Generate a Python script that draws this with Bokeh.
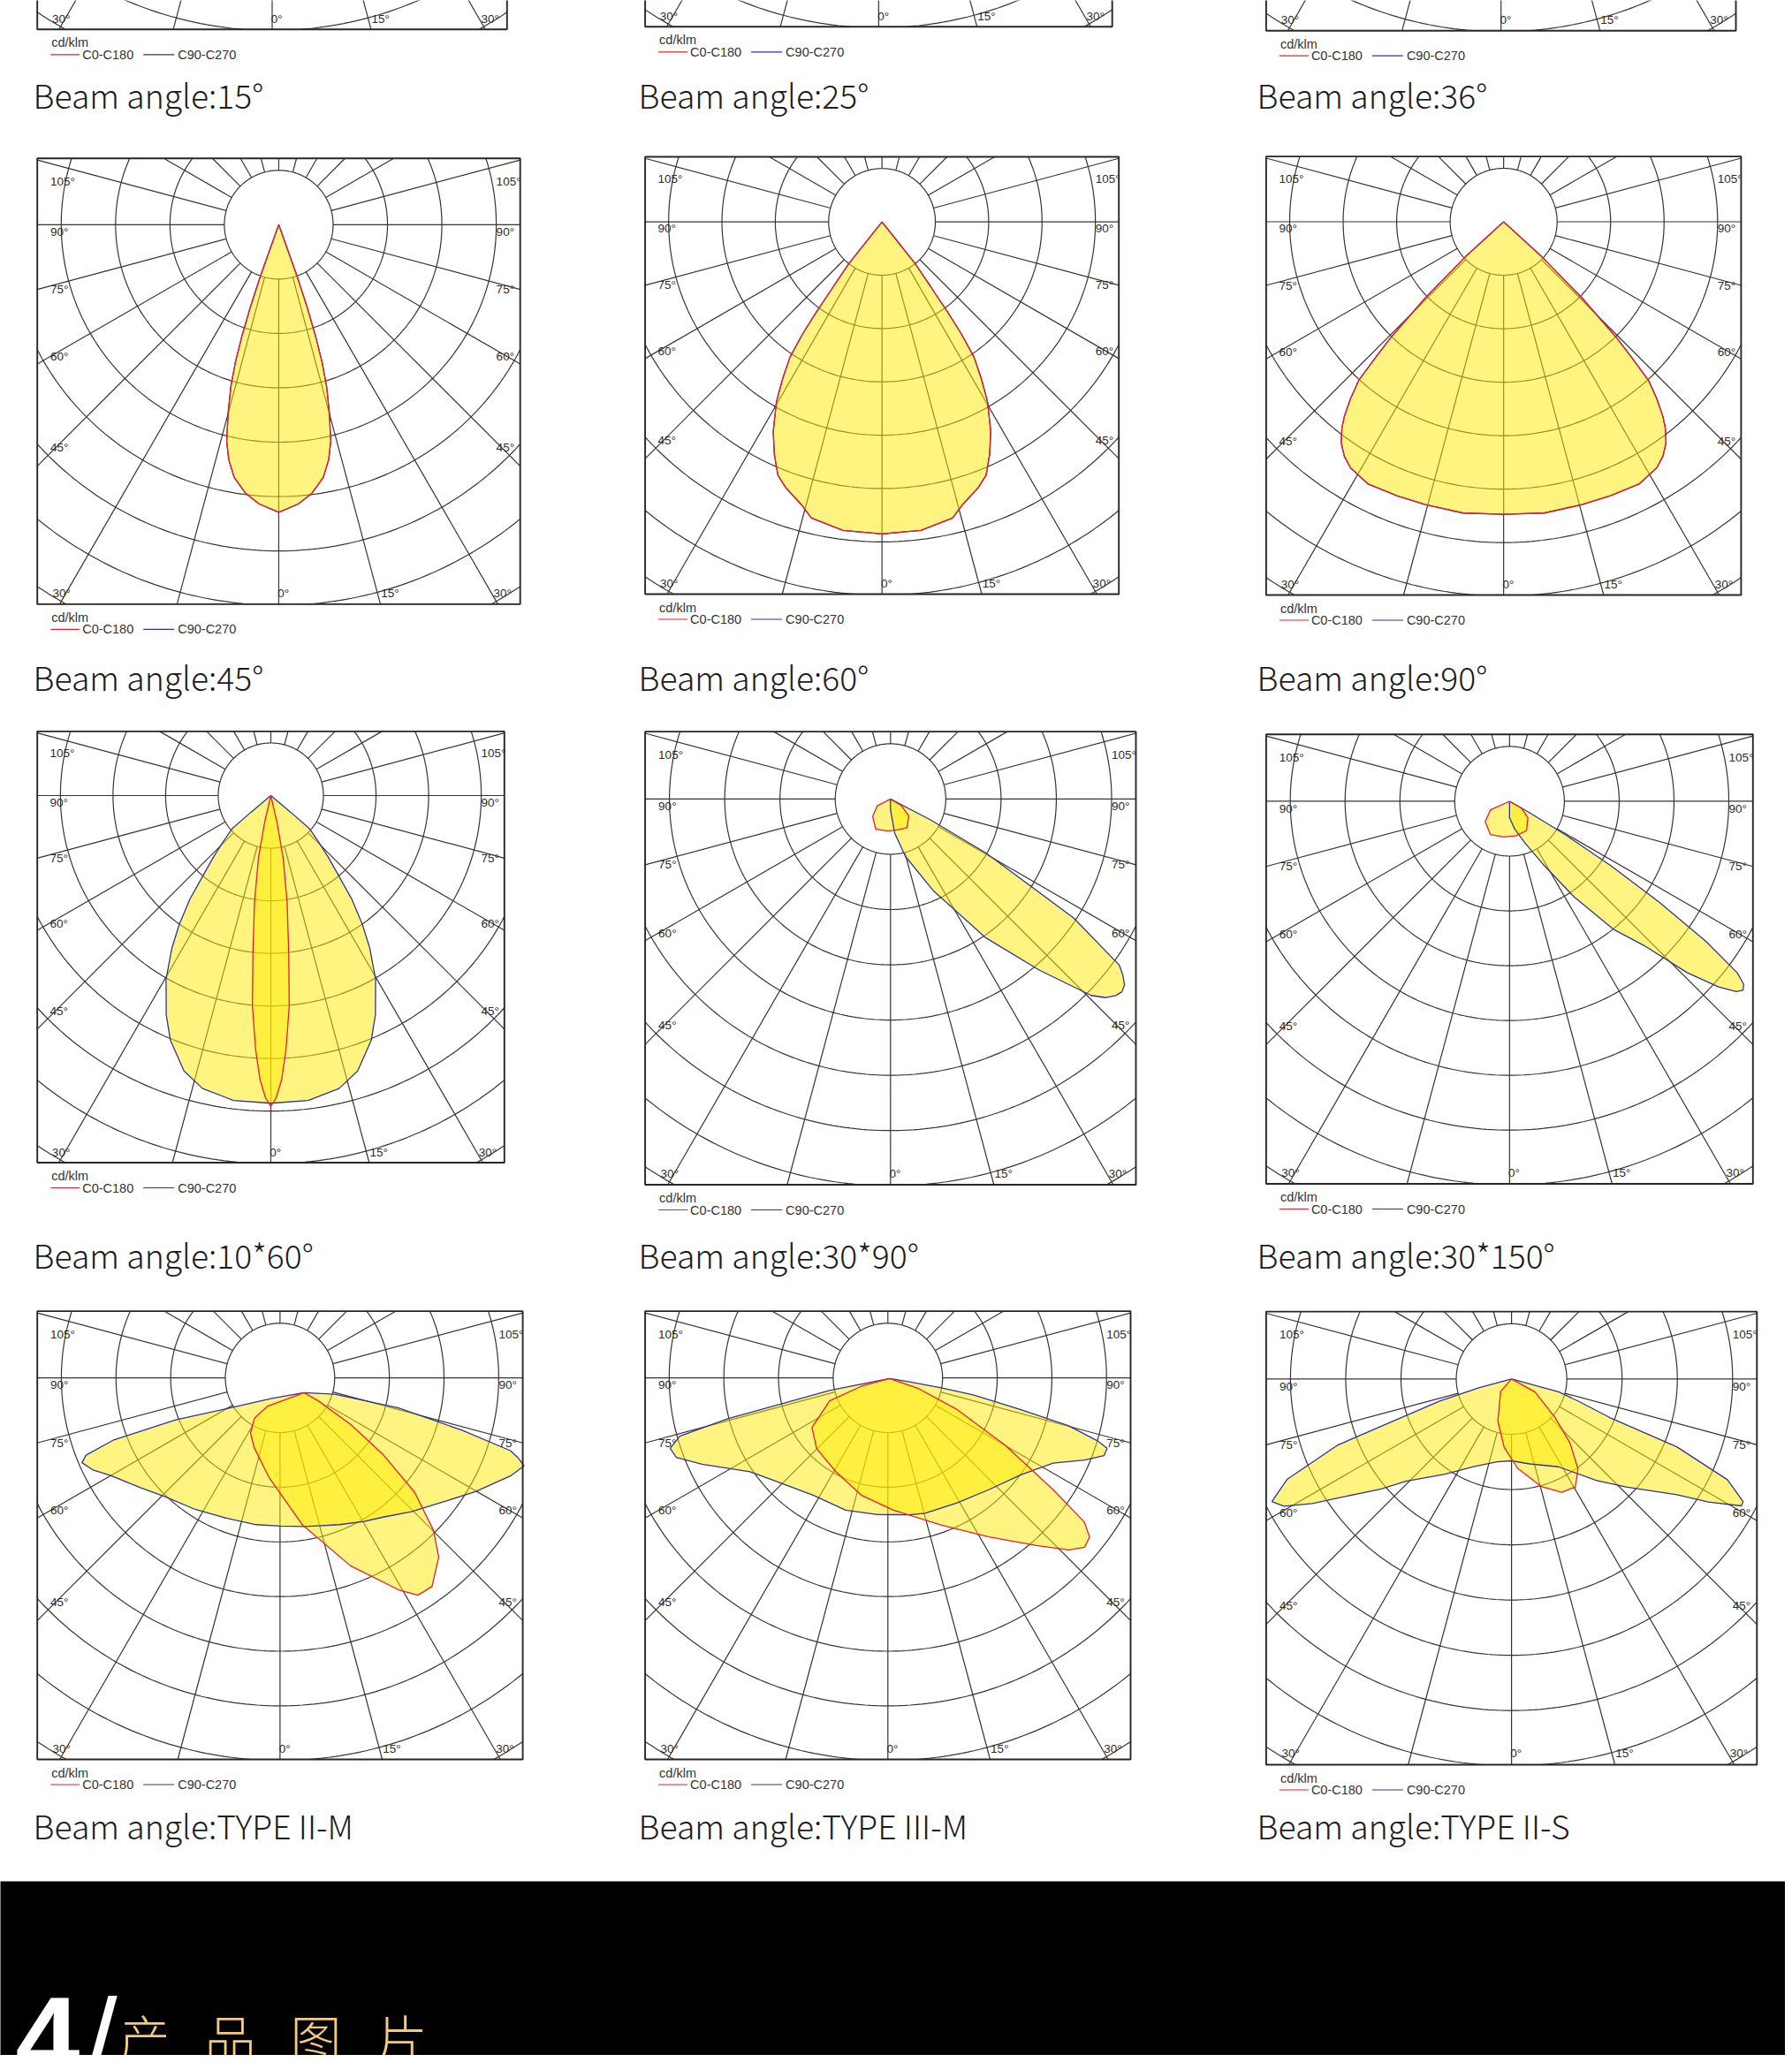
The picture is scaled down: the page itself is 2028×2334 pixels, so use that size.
import numpy as np
from bokeh.plotting import figure
from bokeh.models import Range1d
from bokeh.core.properties import value
from bokeh.embed import file_html
from bokeh.resources import INLINE

# ------------------------------------------------------------------ data
titles = ["Beam angle:15°", "Beam angle:25°", "Beam angle:36°",
          "Beam angle:45°", "Beam angle:60°", "Beam angle:90°",
          "Beam angle:10*60°", "Beam angle:30*90°", "Beam angle:30*150°",
          "Beam angle:TYPE II-M", "Beam angle:TYPE III-M", "Beam angle:TYPE II-S"]
side_labels = ["105°", "90°", "75°", "60°", "45°"]
bottom_labels = ["30°", "0°", "15°", "30°"]
legend_unit = "cd/klm"
legend_names = ["C0-C180", "C90-C270"]
ring_levels = [1, 2, 3, 4, 5, 6, 7, 8]
ray_angles = list(range(0, 360, 15))
heading_number = "4"
heading_slash = "/"
heading_chars = ["产", "品", "图", "片"]

# intensity (in grid-ring units) against angle from nadir (deg)
# symmetric beams: half profiles
b45_ang = [0, 4, 7, 10, 12, 13.5, 15, 16.5, 17.5, 18.3, 19, 19.6, 20.2]
b45_int = [5.29, 5.15, 4.98, 4.72, 4.42, 4.10, 3.60, 3.10, 2.65, 2.15, 1.60, 1.00, 0]
b60_ang = [0, 7.2, 13.4, 15.8, 19.9, 22.3, 24.8, 27.4, 30.4, 32.4, 34.2, 35.3, 36.0, 36.9, 38.4, 39.5]
b60_int = [5.85, 5.83, 5.71, 5.52, 5.30, 5.14, 4.81, 4.43, 3.91, 3.47, 3.07, 2.58, 2.11, 1.52, 0.99, 0]
b90_ang = [0, 7.9, 15.5, 21.3, 27.3, 31.9, 34.2, 36.3, 38.1, 39.3, 40.9, 42.4, 43.3, 44.2, 45.8, 47.5, 48.5]
b90_int = [5.47, 5.50, 5.49, 5.50, 5.52, 5.42, 5.30, 5.13, 4.90, 4.70, 4.37, 4.02, 3.50, 3.05, 2.05, 0.98, 0]
b1060_c90_ang = [0, 7, 13.1, 17.5, 22.3, 25.5, 29.7, 33, 35.4, 38, 40.2, 43, 46, 49.4, 50, 50.5]
b1060_c90_int = [5.85, 5.84, 5.72, 5.49, 5.03, 4.62, 4.02, 3.45, 3.00, 2.50, 2.00, 1.60, 1.25, 0.97, 0.50, 0]
b1060_c0_ang = [0, 1, 2.2, 3.4, 5, 6.4, 8.7, 11.2, 13, 14.5]
b1060_c0_int = [5.91, 5.75, 5.40, 4.85, 4.02, 3.06, 2.05, 1.21, 0.53, 0]
# asymmetric beams: full profiles (negative angles = opposite half-plane)
b3090_c0_ang = [-75, -63, -46, -26, -5, 14, 30, 47, 59, 70]
b3090_c0_int = [0, 0.27, 0.45, 0.61, 0.58, 0.57, 0.60, 0.45, 0.23, 0]
b3090_c90_ang = [-5, 0, 7, 14.5, 25, 34.5, 41, 45.6, 47.3, 48.9, 50.2, 51.5, 52.8, 54, 57, 60.5, 62.5, 64]
b3090_c90_int = [0, 0.20, 0.62, 1.07, 1.83, 3.05, 4.10, 5.08, 5.30, 5.41, 5.45, 5.41, 5.28, 5.12, 3.95,
                 1.99, 0.80, 0]
b30150_c0_ang = [-80, -66, -50, -30, -10, 10, 30, 48, 60, 72]
b30150_c0_int = [0, 0.38, 0.58, 0.70, 0.66, 0.64, 0.62, 0.45, 0.25, 0]
b30150_c90_ang = [-3, 0, 10, 20, 28, 34, 39, 43, 46, 48.4, 50, 51, 52, 53, 54.5, 56, 57.5, 59, 60.5, 61.5]
b30150_c90_int = [0, 0.30, 0.50, 0.80, 1.30, 2.10, 3.00, 3.60, 4.50, 5.10, 5.40, 5.48, 5.42, 5.20, 4.40,
                  3.30, 2.20, 1.20, 0.40, 0]
b2m_c0_ang = [-75, -69.5, -62.7, -52.9, -42, -22.4, -0.7, 15, 25.6, 29.3, 33.4, 39.3, 43.2, 48, 52, 55.7, 60, 63]
b2m_c0_int = [0, 0.72, 1.02, 1.23, 1.36, 1.68, 2.42, 3.28, 4.00, 4.25, 4.25, 3.89, 3.46, 2.72, 1.82, 1.03, 0.30, 0]
b2m_c90_ang = [-90, -80, -78.5, -78, -76, -74, -72.5, -70, -66.8, -60, -53, -43, -33, -20, -10, 0, 6, 15, 25,
               32, 42, 52.7, 60, 68, 71.6, 73, 74.3, 76.6, 80.8, 87, 90]
b2m_c90_int = [0, 0.60, 1.20, 2.40, 3.60, 4.15, 4.26, 4.12, 3.85, 3.47, 3.17, 2.92, 2.72, 2.57, 2.48, 2.45, 2.45,
               2.50, 2.60, 2.69, 2.93, 3.27, 3.62, 4.07, 4.24, 4.10, 3.92, 2.97, 1.75, 0.56, 0]
b3m_c0_ang = [-80, -74.6, -69.5, -57.6, -46.1, -29.8, -13.4, 1.7, 19.3, 32.1, 41.3, 46.3, 49.1, 51.6, 53.6,
              55.8, 60, 65.3, 70.6, 76]
b3m_c0_int = [0, 0.53, 1.17, 1.68, 1.85, 1.97, 2.20, 2.41, 2.84, 3.42, 4.07, 4.54, 4.72, 4.67, 4.43, 3.61,
              2.44, 1.36, 0.57, 0]
b3m_c90_ang = [-82, -78.7, -76.8, -76, -74.6, -72.3, -69.7, -65.4, -56.2, -45.7, -33, -18.4, -5, 8.2, 14.8,
               28.5, 41.9, 53.7, 62.6, 67.3, 70.2, 72.2, 73.3, 75.2, 76.6, 78.9, 79.7, 80.5, 83]
b3m_c90_int = [0, 1.12, 2.02, 3.05, 3.98, 4.21, 4.16, 3.77, 3.07, 2.75, 2.55, 2.54, 2.50, 2.52, 2.55, 2.59,
               2.73, 2.98, 3.37, 3.87, 4.17, 4.18, 3.97, 3.39, 2.47, 1.56, 0.96, 0.37, 0]
b2s_c0_ang = [-50, -41, -18, -6.2, 3.9, 15.5, 23.9, 30.6, 36.5, 42.4, 48.5, 61.3, 70]
b2s_c0_int = [0, 0.30, 0.80, 1.24, 1.62, 2.02, 2.24, 2.27, 2.02, 1.57, 1.05, 0.48, 0]
b2s_c90_ang = [-77, -75, -72.9, -69.2, -65.9, -62.9, -60.8, -58, -55.6, -50, -45.9, -35, -23.4, -10, 0, 12,
               28.1, 40, 46.7, 55, 58, 61.1, 62.1, 65, 67.7, 68.6, 71.5, 74.8, 78]
b2s_c90_int = [0, 0.60, 1.36, 3.36, 4.45, 4.87, 4.72, 4.25, 3.81, 3.10, 2.66, 2.10, 1.73, 1.52, 1.48, 1.57,
               1.80, 2.40, 2.85, 3.65, 4.20, 4.75, 4.74, 4.31, 3.23, 1.90, 1.30, 0.88, 0]


def sym(ang, inten):
    return [-a for a in ang[::-1]] + list(ang[1:]), list(inten[::-1]) + list(inten[1:])


# panel index -> curves (C0-C180, C90-C270), whether both coincide, origin offset in ring units
panel_curves = {
    3: dict(c0=sym(b45_ang, b45_int), c90=sym(b45_ang, b45_int), same=True, off=(0, 0)),
    4: dict(c0=sym(b60_ang, b60_int), c90=sym(b60_ang, b60_int), same=True, off=(0, 0)),
    5: dict(c0=sym(b90_ang, b90_int), c90=sym(b90_ang, b90_int), same=True, off=(0, 0)),
    6: dict(c0=sym(b1060_c0_ang, b1060_c0_int), c90=sym(b1060_c90_ang, b1060_c90_int), same=False, off=(0, 0)),
    7: dict(c0=(b3090_c0_ang, b3090_c0_int), c90=(b3090_c90_ang, b3090_c90_int), same=False, off=(0, 0)),
    8: dict(c0=(b30150_c0_ang, b30150_c0_int), c90=(b30150_c90_ang, b30150_c90_int), same=False, off=(0, 0)),
    9: dict(c0=(b2m_c0_ang, b2m_c0_int), c90=(b2m_c90_ang, b2m_c90_int), same=False, off=(0.44, 0.27)),
    10: dict(c0=(b3m_c0_ang, b3m_c0_int), c90=(b3m_c90_ang, b3m_c90_int), same=False, off=(0.03, 0.01)),
    11: dict(c0=(b2s_c0_ang, b2s_c0_int), c90=(b2s_c90_ang, b2s_c90_int), same=False, off=(0, 0)),
}

# ------------------------------------------------------------------ layout
W, H = 2020, 2326
frames = [  # left, right, bottom of each diagram frame (page px)
    (41.7, 573.3, 32.8), (729.6, 1258.2, 29.8), (1432.4, 1964.0, 34.2),
    (41.7, 588.2, 683.4), (729.6, 1265.7, 672.0), (1432.4, 1969.9, 673.0),
    (41.7, 570.3, 1315.5), (729.6, 1285.0, 1340.5), (1432.4, 1983.3, 1339.5),
    (41.7, 591.1, 1991.0), (729.6, 1279.0, 1991.0), (1432.4, 1987.8, 1997.0),
]
title_x = [37, 722, 1422]
title_y = [106, 765, 1419, 2065]
side_dy = [-0.80, 0.13, 1.19, 2.43, 4.10]
bottom_dx = [-4.16, -0.02, 1.88, 3.95]

GRID = "#3a3431"
FRAME = "#2a2624"
RED = "#e8202c"
BLUE = "#2f3594"
FILL = "#ffea00"
LABEL = "#2f2c2a"
TITLE_FONT = "Noto Sans CJK SC Light"

p = figure(width=W, height=H, x_range=Range1d(0, W), y_range=Range1d(H, 0),
           output_backend="svg", toolbar_location=None, x_axis_type=None, y_axis_type=None,
           min_border=0, outline_line_color=None, background_fill_color="white",
           border_fill_color="white")
p.xgrid.visible = False
p.ygrid.visible = False


def ring_segments(cx, cy, R, L, Rt, T, B):
    two_pi = 2 * np.pi
    cands = [0.0, two_pi]
    for xe in (L, Rt):
        v = (xe - cx) / R
        if abs(v) <= 1:
            a = np.arcsin(v)
            cands += [a % two_pi, (np.pi - a) % two_pi]
    for ye in (T, B):
        v = (ye - cy) / R
        if abs(v) <= 1:
            a = np.arccos(v)
            cands += [a, (two_pi - a) % two_pi]
    cands = sorted(cands)
    segs = []
    for a0, a1 in zip(cands[:-1], cands[1:]):
        if a1 - a0 < 1e-9:
            continue
        am = 0.5 * (a0 + a1)
        xm, ym = cx + R * np.sin(am), cy + R * np.cos(am)
        if L <= xm <= Rt and T <= ym <= B:
            n = max(3, int(np.degrees(a1 - a0)) + 2)
            t = np.linspace(a0, a1, n)
            segs.append((list(cx + R * np.sin(t)), list(cy + R * np.cos(t))))
    return segs


def ray_exit(cx, cy, a, L, Rt, T, B):
    sx, sy = np.sin(a), np.cos(a)
    ts = []
    if sx > 1e-9:
        ts.append((Rt - cx) / sx)
    if sx < -1e-9:
        ts.append((L - cx) / sx)
    if sy > 1e-9:
        ts.append((B - cy) / sy)
    if sy < -1e-9:
        ts.append((T - cy) / sy)
    t = min(ts)
    return cx + t * sx, cy + t * sy


def polar_path(ox, oy, d, ang, inten):
    a = np.radians(np.asarray(ang, float))
    r = np.asarray(inten, float) * d
    return list(ox + r * np.sin(a)), list(oy + r * np.cos(a))


ring_xs, ring_ys = [], []
rx0, ry0, rx1, ry1 = [], [], [], []
bl, br, bt, bb = [], [], [], []
lab_x, lab_y, lab_t = [], [], []
leg_x, leg_y, leg_t = [], [], []
lr_x0, lr_x1, lr_y = [], [], []
lb_x0, lb_x1, lb_y = [], [], []
geo = []


def add_label(x, y, t):
    if 8 <= y <= H - 8:
        lab_x.append(x); lab_y.append(y); lab_t.append(t)


for i, (L, Rt, B) in enumerate(frames):
    d = (Rt - L) / 8.88
    cx = 0.5 * (L + Rt)
    cy = B - 6.98 * d
    T = cy - 1.22 * d
    geo.append((cx, cy, d))
    bl.append(L); br.append(Rt); bt.append(T); bb.append(B)
    for k in ring_levels:
        for sx_, sy_ in ring_segments(cx, cy, k * d, L, Rt, T, B):
            ring_xs.append(sx_); ring_ys.append(sy_)
    for ang in ray_angles:
        a = np.radians(ang)
        ex, ey = ray_exit(cx, cy, a, L, Rt, T, B)
        rx0.append(cx + d * np.sin(a)); ry0.append(cy + d * np.cos(a))
        rx1.append(ex); ry1.append(ey)
    for t, dy in zip(side_labels, side_dy):
        add_label(cx - 4.20 * d, cy + dy * d, t)
        add_label(cx + 4.00 * d, cy + dy * d, t)
    for t, dx in zip(bottom_labels, bottom_dx):
        add_label(cx + dx * d, cy + 6.78 * d, t)
    leg_x += [L + 16, L + 51, L + 159]
    leg_y += [B + 15, B + 28.5, B + 28.5]
    leg_t += [legend_unit, legend_names[0], legend_names[1]]
    lr_x0.append(L + 15); lr_x1.append(L + 48); lr_y.append(B + 28.5)
    lb_x0.append(L + 120); lb_x1.append(L + 155); lb_y.append(B + 28.5)

# grid
p.multi_line(ring_xs, ring_ys, line_color=GRID, line_width=1.2)
p.segment(rx0, ry0, rx1, ry1, line_color=GRID, line_width=1.2)

# beams
outlines = []
for i, spec in panel_curves.items():
    cx, cy, d = geo[i]
    ox, oy = cx + spec["off"][0] * d, cy + spec["off"][1] * d
    bx, by = polar_path(ox, oy, d, *spec["c90"])
    rx, ry = polar_path(ox, oy, d, *spec["c0"])
    p.patch(bx, by, fill_color=FILL, fill_alpha=0.5, line_color=None)
    if not spec["same"]:
        p.patch(rx, ry, fill_color=FILL, fill_alpha=0.5, line_color=None)
    outlines.append((bx, by, rx, ry))
for bx, by, rx, ry in outlines:
    p.line(bx, by, line_color=BLUE, line_width=1.3)
    p.line(rx, ry, line_color=RED, line_width=1.3)

# frames
p.quad(left=bl, right=br, top=bt, bottom=bb, fill_color=None, line_color=FRAME, line_width=1.9)

# angle labels
p.text(lab_x, lab_y, text=lab_t, text_font=value("Liberation Sans"), text_font_size="13.5px",
       text_color=LABEL, text_baseline="middle", text_align="left")

# legends
p.segment(lr_x0, lr_y, lr_x1, lr_y, line_color=RED, line_width=1.2)
p.segment(lb_x0, lb_y, lb_x1, lb_y, line_color=BLUE, line_width=1.2)
p.text(leg_x, leg_y, text=leg_t, text_font=value("Liberation Sans"), text_font_size="14.5px",
       text_color="#333333", text_baseline="middle", text_align="left")

# titles
tx = [title_x[i % 3] for i in range(len(titles))]
ty = [title_y[i // 3] for i in range(len(titles))]
p.text(tx, ty, text=titles, text_font=value(TITLE_FONT), text_font_size="37.3px",
       text_color="#1c1c1c", text_baseline="alphabetic", text_align="left")

# footer band
p.quad(left=[-10], right=[W + 10], top=[2129], bottom=[H + 20], fill_color="black", line_color=None)
p.text([17], [2261], text=[heading_number], text_font=value("Liberation Sans"), text_font_style="bold",
       text_font_size="131px", text_color="white", text_baseline="top", text_align="left")
p.text([96], [2234], text=[heading_slash], text_font=value("Liberation Sans"),
       text_font_size="130px", text_color="white", text_baseline="top", text_align="left")
p.text([134 + 97 * i for i in range(len(heading_chars))], [2262] * len(heading_chars),
       text=heading_chars, text_font=value(TITLE_FONT), text_font_size="58px",
       text_color="#f3ca80", text_baseline="top", text_align="left")

open("out.html", "w").write(file_html(p, INLINE))
